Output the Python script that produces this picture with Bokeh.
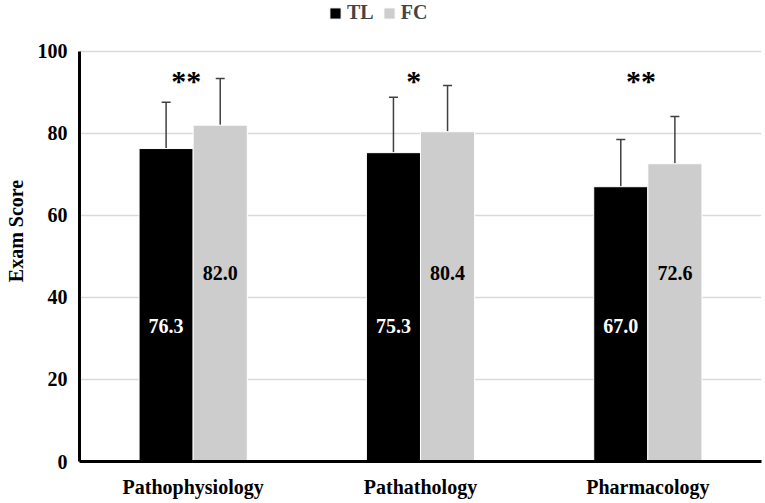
from bokeh.plotting import figure
from bokeh.models import (ColumnDataSource, FactorRange, Range1d, Whisker, TeeHead,
                          Legend, LegendItem, FixedTicker)
from bokeh.transform import dodge
from bokeh.core.properties import value
from bokeh.embed import file_html
from bokeh.resources import INLINE

# ---- data ----
subjects = ["Pathophysiology", "Pathathology", "Pharmacology"]
tl_mean = [76.3, 75.3, 67.0]
fc_mean = [82.0, 80.4, 72.6]
tl_sd = [11.3, 13.5, 11.5]
fc_sd = [11.4, 11.3, 11.5]
signif = ["**", "*", "**"]
y_ticks = [0, 20, 40, 60, 80, 100]

FONT = "Liberation Serif"
TL_COLOR = "#000000"
FC_COLOR = "#cdcdcd"
ERR_COLOR = "#404040"

src = ColumnDataSource(dict(
    subject=subjects,
    tl=tl_mean,
    fc=fc_mean,
    tl_up=[m + s for m, s in zip(tl_mean, tl_sd)],
    fc_up=[m + s for m, s in zip(fc_mean, fc_sd)],
    tl_label=[f"{v:.1f}" for v in tl_mean],
    fc_label=[f"{v:.1f}" for v in fc_mean],
    tl_label_y=[33.0] * len(subjects),
    fc_label_y=[45.9] * len(subjects),
    star=signif,
    star_y=[93.0] * len(subjects),
))

# frame reaches the top of the canvas so the legend can sit above the 100 line
p = figure(width=765, height=503, x_range=FactorRange(*subjects, range_padding=0),
           y_range=Range1d(0, 112.4), output_backend="svg", toolbar_location=None,
           min_border_left=79, min_border_right=4, min_border_top=0, min_border_bottom=42)
p.x_range.factor_padding = 0
p.outline_line_color = None
p.background_fill_color = "white"

off = 0.119
w = 0.238
r_tl = p.vbar(x=dodge("subject", -off, range=p.x_range), top="tl", width=w, source=src,
              fill_color=TL_COLOR, line_color="white", line_width=1)
r_fc = p.vbar(x=dodge("subject", off, range=p.x_range), top="fc", width=w, source=src,
              fill_color=FC_COLOR, line_color="white", line_width=1)

for xoff, lo, up in [(-off, "tl", "tl_up"), (off, "fc", "fc_up")]:
    wk = Whisker(source=src, base=dodge("subject", xoff, range=p.x_range), lower=lo, upper=up,
                 line_color=ERR_COLOR, line_width=1.5, lower_head=None,
                 upper_head=TeeHead(size=9, line_color=ERR_COLOR, line_width=1.5))
    p.add_layout(wk)

p.text(x=dodge("subject", -off, range=p.x_range), y="tl_label_y", text="tl_label", source=src,
       text_color="white", text_font=value(FONT), text_font_style="bold", text_font_size="20px",
       text_align="center", text_baseline="middle")
p.text(x=dodge("subject", off, range=p.x_range), y="fc_label_y", text="fc_label", source=src,
       text_color="black", text_font=value(FONT), text_font_style="bold", text_font_size="20px",
       text_align="center", text_baseline="middle")
p.text(x=dodge("subject", -0.03, range=p.x_range), y="star_y", text="star", source=src,
       text_color="black", text_font=value(FONT), text_font_style="bold", text_font_size="30px",
       text_align="center", text_baseline="middle")

# axes
p.yaxis.ticker = FixedTicker(ticks=y_ticks)
p.yaxis.bounds = (0, 100)
p.yaxis.axis_label = "Exam Score"
for ax in (p.xaxis[0], p.yaxis[0]):
    ax.axis_line_width = 3
    ax.axis_line_color = "black"
    ax.major_tick_line_color = None
    ax.minor_tick_line_color = None
    ax.major_tick_out = 0
    ax.major_tick_in = 0
    ax.minor_tick_out = 0
    ax.minor_tick_in = 0
    ax.major_label_text_font = FONT
    ax.major_label_text_font_style = "bold"
    ax.major_label_text_font_size = "20px"
    ax.major_label_text_color = "black"
p.yaxis.axis_label_text_font = FONT
p.yaxis.axis_label_text_font_style = "bold"
p.yaxis.axis_label_text_font_size = "20px"
p.yaxis.axis_label_text_color = "black"
p.yaxis.axis_label_standoff = 8
p.yaxis.major_label_standoff = 12
p.xaxis.major_label_standoff = 14

p.xgrid.grid_line_color = None
p.ygrid.grid_line_color = "#d9d9d9"
p.ygrid.grid_line_width = 1.5
p.ygrid.ticker = FixedTicker(ticks=y_ticks)

legend = Legend(items=[LegendItem(label="TL", renderers=[r_tl]),
                       LegendItem(label="FC", renderers=[r_fc])],
                orientation="horizontal", location=(249, 437),
                glyph_width=14, glyph_height=14, label_standoff=5, spacing=8,
                padding=0, margin=0, border_line_color=None, background_fill_alpha=0,
                label_text_font=FONT, label_text_font_style="bold", label_text_font_size="20px")
p.add_layout(legend, "center")

open("out.html", "w").write(file_html(p, INLINE))
